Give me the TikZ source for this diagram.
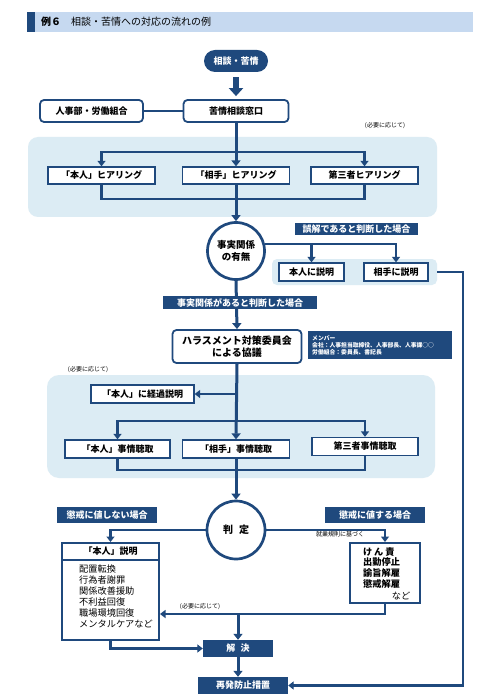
\documentclass[tikz,border=0pt]{standalone}
\usepackage{fontspec}
\setmainfont{Noto Sans CJK JP}
\usetikzlibrary{arrows.meta}
\definecolor{dk}{RGB}{31,73,125}
\definecolor{pn}{RGB}{220,236,244}
\definecolor{tb}{RGB}{198,217,240}
\begin{document}
\begin{tikzpicture}[x=1pt,y=-1pt,
  box/.style={draw=dk, line width=1.3pt, fill=white, inner sep=0pt, font=\fontsize{9}{10}\selectfont\bfseries},
  rbox/.style={box, rounded corners=4pt, line width=1.8pt},
  tag/.style={fill=dk, text=white, inner sep=0pt, font=\fontsize{9}{10}\selectfont\bfseries},
  panel/.style={fill=pn, draw=none, inner sep=0pt},
  circ/.style={circle, draw=dk, line width=2.7pt, fill=white, inner sep=0pt, font=\fontsize{9.5}{12}\selectfont\bfseries, align=center},
  conn/.style={draw=dk, line width=2.2pt},
  trunk/.style={conn, line width=3pt},
  arr/.style={conn, -{Triangle[width=8pt,length=5.5pt]}},
  tarr/.style={trunk, -{Triangle[width=9pt,length=6pt]}},
  note/.style={font=\fontsize{6}{7}\selectfont, inner sep=0pt},
]
\useasboundingbox (0,0) rectangle (494,700);
\fill[white] (0,0) rectangle (494,700);
% title
\fill[tb] (27,12) rectangle (473,32);
\fill[dk] (27,12) rectangle (35,32);
\node[anchor=west, inner sep=0pt, font=\fontsize{10}{12}\selectfont] (title) at (41,22) {\textbf{例６}\hspace{1em}相談・苦情への対応の流れの例};
% panels
\fill[pn, rounded corners=10pt] (28,137) rectangle (437,217);
\node[panel, rounded corners=5pt, minimum width=165pt, minimum height=26pt] (panel2) at (354.5,272) {};
\fill[pn, rounded corners=12pt] (47,375) rectangle (435,478);
% nodes
\node[tag, rounded corners=11pt, minimum width=64pt, minimum height=22pt] (pill) at (236,61) {相談・苦情};
\node[rbox, minimum width=105pt, minimum height=22pt] (madoguchi) at (236,111) {苦情相談窓口};
\node[rbox, minimum width=103pt, minimum height=22pt] (jinji) at (91.5,111) {人事部・労働組合};
\node[note] (n1) at (385,126) {(必要に応じて)};
\node[box, minimum width=107pt, minimum height=17pt] (honhear) at (101.5,175.5) {「本人」ヒアリング};
\node[box, minimum width=107pt, minimum height=17pt] (aitehear) at (236,175.5) {「相手」ヒアリング};
\node[box, minimum width=107pt, minimum height=17pt] (daihear) at (364.5,175.5) {第三者ヒアリング};
\node[circ, minimum size=57pt] (jijitsu) at (236,251) {事実関係\\の有無};
\node[tag, minimum width=123pt, minimum height=12pt] (gokai) at (356.5,229) {誤解であると判断した場合};
\node[box, minimum width=65pt, minimum height=18pt] (setsu1) at (311.5,272) {本人に説明};
\node[box, minimum width=64pt, minimum height=18pt] (setsu2) at (396,272) {相手に説明};
\node[rbox, minimum width=129pt, minimum height=33pt, align=center, font=\fontsize{10}{12.5}\selectfont\bfseries] (harass) at (237,346.5) {ハラスメント対策委員会\\による協議};
\node[fill=dk, text=white, anchor=north west, text width=136pt, minimum height=28pt, inner xsep=4pt, inner ysep=2.5pt, align=left, font=\fontsize{5.8}{7}\selectfont\bfseries] (member) at (308,331) {メンバー\\会社：人事担当取締役、人事部長、人事課○○\\労働組合：委員長、書記長};
\node[note] (n2) at (88,370) {(必要に応じて)};
\node[box, minimum width=103pt, minimum height=18pt] (keika) at (142.5,394) {「本人」に経過説明};
\node[box, minimum width=105pt, minimum height=18pt] (honji) at (117.5,449) {「本人」事情聴取};
\node[box, minimum width=107pt, minimum height=18pt] (aiji) at (236,449) {「相手」事情聴取};
\node[box, minimum width=106pt, minimum height=18pt] (daiji) at (365,446.5) {第三者事情聴取};
\node[circ, minimum size=58pt, font=\fontsize{10}{12}\selectfont\bfseries] (hantei) at (236,530) {判\hspace{0.6em}定};
\node[tag, minimum width=100pt, minimum height=16pt] (nashi) at (107,515) {懲戒に値しない場合};
\node[tag, minimum width=100pt, minimum height=16pt] (ari) at (375,515) {懲戒に値する場合};
\node[note] (n4) at (340,534) {就業規則に基づく};
\node[draw=dk, line width=2pt, fill=white, minimum width=97pt, minimum height=97pt, inner sep=0pt] (honsetsu) at (110.5,591.5) {};
\draw[dk, line width=1.5pt] ([yshift=-18pt]honsetsu.north west) -- ([yshift=-18pt]honsetsu.north east);
\node[inner sep=0pt, font=\fontsize{9}{10}\selectfont\bfseries] (hshead) at ([yshift=-9pt]honsetsu.north) {「本人」説明};
\node[anchor=north west, align=left, inner sep=0pt, font=\fontsize{9.2}{11}\selectfont] (hlist) at (79,565) {配置転換\\行為者謝罪\\関係改善援助\\不利益回復\\職場環境回復\\メンタルケアなど};
\node[draw=dk, line width=2pt, fill=white, minimum width=70pt, minimum height=60pt, inner sep=0pt] (kenseki) at (385,573) {};
\node[anchor=north west, align=left, inner sep=0pt, font=\fontsize{9.2}{10.8}\selectfont\bfseries] (klist) at (363,547) {け\hspace{0.2em}ん\hspace{0.2em}責\\出勤停止\\諭旨解雇\\懲戒解雇};
\node[inner sep=0pt, font=\fontsize{9.2}{11}\selectfont] (nado) at (401,596) {など};
\node[note] (n3) at (200,607) {(必要に応じて)};
\node[tag, minimum width=70pt, minimum height=17pt] (kaiketsu) at (238,648.5) {解\hspace{0.6em}決};
\node[tag, minimum width=90pt, minimum height=17pt] (saihatsu) at (243,685.5) {再発防止措置};
% coordinates
\coordinate (h1) at (236,152);
\coordinate (j1) at (236,199);
\coordinate (k1) at (236,394);
\coordinate (k2) at (236,421);
\coordinate (k3) at (236,470);
\coordinate (m1) at (238,614);
\coordinate (rc) at (463,685.5);
% connectors
\draw[dk, line width=6pt, -{Triangle[width=14pt,length=8pt]}, shorten <=5pt, shorten >=3pt] (pill) -- (madoguchi);
\draw[dk, line width=1.5pt] (jinji.east) -- (madoguchi.west);
\draw[tarr] (madoguchi.south) -- (aitehear.north);
\draw[arr] (h1) -| (honhear.north);
\draw[arr] (h1) -| (daihear.north);
\draw[conn] (honhear.south) |- (j1);
\draw[conn] (daihear.south) |- (j1);
\draw[tarr] (aitehear.south) -- (jijitsu.north);
\draw[arr] (jijitsu.14) -| (setsu2.north);
\draw[arr] (setsu1.north |- jijitsu.14) -- (setsu1.north);
\draw[arr] (panel2.east) -| (rc) -- (saihatsu.east);
\draw[tarr] (jijitsu.south) -- (harass.north);
\draw[tarr] (harass.south) -- (aiji.north);
\draw[arr] (k1) -- (keika.east);
\draw[arr] (k2) -| (honji.north);
\draw[arr] (k2) -| (daiji.north);
\draw[conn] (honji.south) |- (k3);
\draw[conn] (daiji.south) |- (k3);
\draw[tarr] (aiji.south) -- (hantei.north);
\draw[arr] (hantei.west) -| (honsetsu.north);
\draw[arr] (hantei.east) -| (kenseki.north);
\draw[arr] (kenseki.south) |- (honsetsu.east |- m1);
\draw[tarr] (m1) -- (kaiketsu.north);
\draw[arr] (honsetsu.south) |- (kaiketsu.west);
\draw[tarr] (kaiketsu.south) -- (kaiketsu.south |- saihatsu.north);
% tag over trunk
\node[tag, minimum width=154pt, minimum height=13pt] (aru) at (240,302.5) {事実関係があると判断した場合};
\end{tikzpicture}
\end{document}
